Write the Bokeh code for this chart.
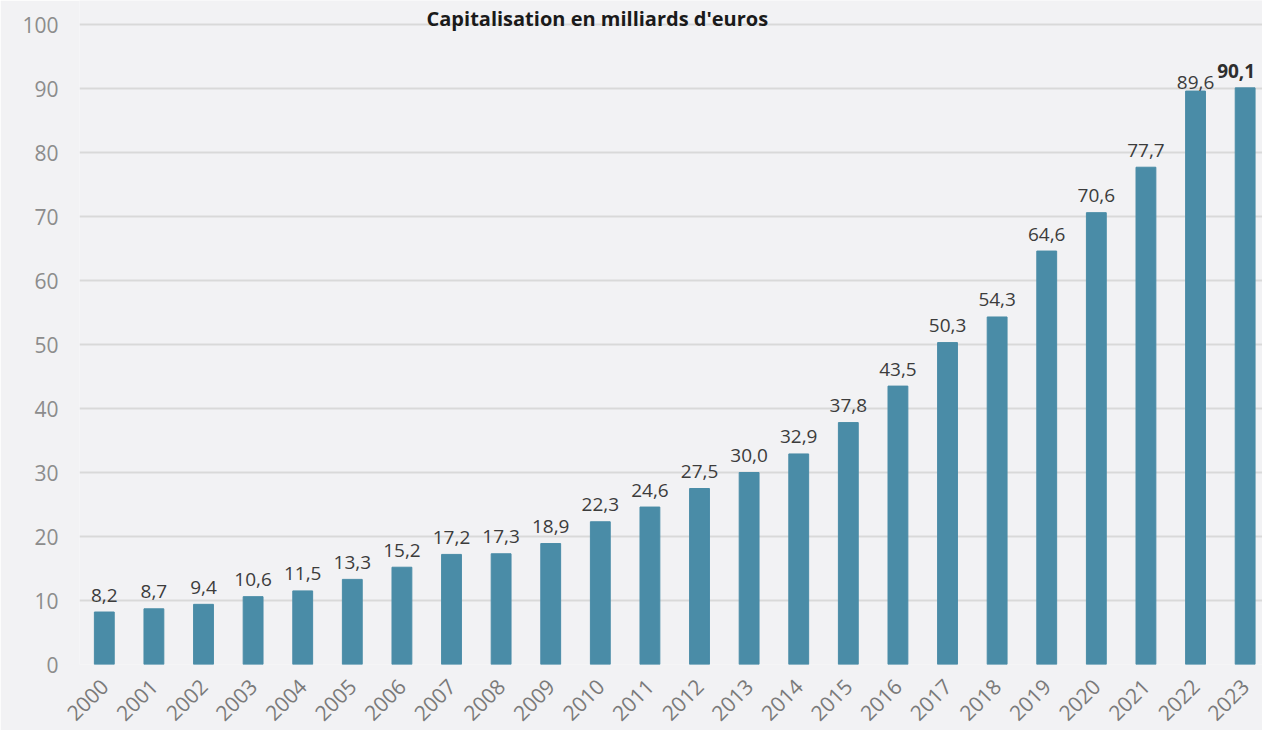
import numpy as np
from math import pi
from bokeh.plotting import figure
from bokeh.models import ColumnDataSource, Range1d, FixedTicker
from bokeh.core.properties import value
from bokeh.embed import file_html
from bokeh.resources import INLINE

# ---- data ----
years = [str(y) for y in range(2000, 2024)]
values = [8.2, 8.7, 9.4, 10.6, 11.5, 13.3, 15.2, 17.2, 17.3, 18.9, 22.3, 24.6,
          27.5, 30.0, 32.9, 37.8, 43.5, 50.3, 54.3, 64.6, 70.6, 77.7, 89.6, 90.1]
y_ticks = [0, 10, 20, 30, 40, 50, 60, 70, 80, 90, 100]
title_text = "Capitalisation en milliards d'euros"

FONT = "Open Sans"
BG = "#f2f2f4"
BAR = "#4a8ca7"

n = len(years)
idx = list(range(n))
labels = [f"{v:.1f}".replace(".", ",") for v in values]
yoffs = [-17] * n
yoffs[n - 2] = -9

src = ColumnDataSource(dict(x=idx, top=values))
src_main = ColumnDataSource(dict(x=idx[:-1], top=values[:-1], label=labels[:-1],
                                 yoff=yoffs[:-1]))
src_last = ColumnDataSource(dict(x=idx[-1:], top=values[-1:], label=labels[-1:],
                                 yoff=yoffs[-1:]))

p = figure(width=1262, height=730, output_backend="svg", toolbar_location=None,
           x_range=Range1d(-0.5, 23.35), y_range=Range1d(0, 103.75),
           min_border_left=79, min_border_right=0, min_border_top=0, min_border_bottom=66)

p.background_fill_color = BG
p.border_fill_color = BG
p.outline_line_color = None

p.vbar(x="x", top="top", width=0.4, bottom=0, source=src, fill_color=BAR, line_color=BAR)

p.text(x="x", y="top", text="label", source=src_main, y_offset="yoff",
       text_align="center", text_baseline="alphabetic",
       text_font=value(FONT), text_font_size="19px", text_color="#3c3c3c")
p.text(x="x", y="top", text="label", source=src_last, y_offset="yoff", x_offset=10,
       text_align="right", text_baseline="alphabetic",
       text_font=value(FONT), text_font_size="19px", text_font_style="bold",
       text_color="#2e2e2e")

# chart title
p.text(x=[9.94], y=[100.94], text=[title_text], text_align="center",
       text_baseline="alphabetic", text_font=value(FONT), text_font_size="20px",
       text_font_style="bold", text_color="#1a1a1a")

p.xaxis.ticker = FixedTicker(ticks=idx)
p.xaxis.major_label_overrides = {i: y for i, y in zip(idx, years)}
p.xaxis.major_label_orientation = pi / 4
p.yaxis.ticker = FixedTicker(ticks=y_ticks)

for ax in (p.xaxis, p.yaxis):
    ax.axis_line_color = None
    ax.major_tick_line_color = None
    ax.minor_tick_line_color = None
    ax.major_label_text_font = FONT

p.yaxis.major_label_text_font_size = "21px"
p.yaxis.major_label_text_color = "#8c8c8c"
p.yaxis.major_label_standoff = 15
p.xaxis.major_label_text_font_size = "21px"
p.xaxis.major_label_text_color = "#7a7a7a"
p.xaxis.major_label_standoff = 12

p.xgrid.grid_line_color = None
p.ygrid.grid_line_color = "#d9d9d9"
p.ygrid.grid_line_width = 2

open("out.html", "w").write(file_html(p, INLINE))
